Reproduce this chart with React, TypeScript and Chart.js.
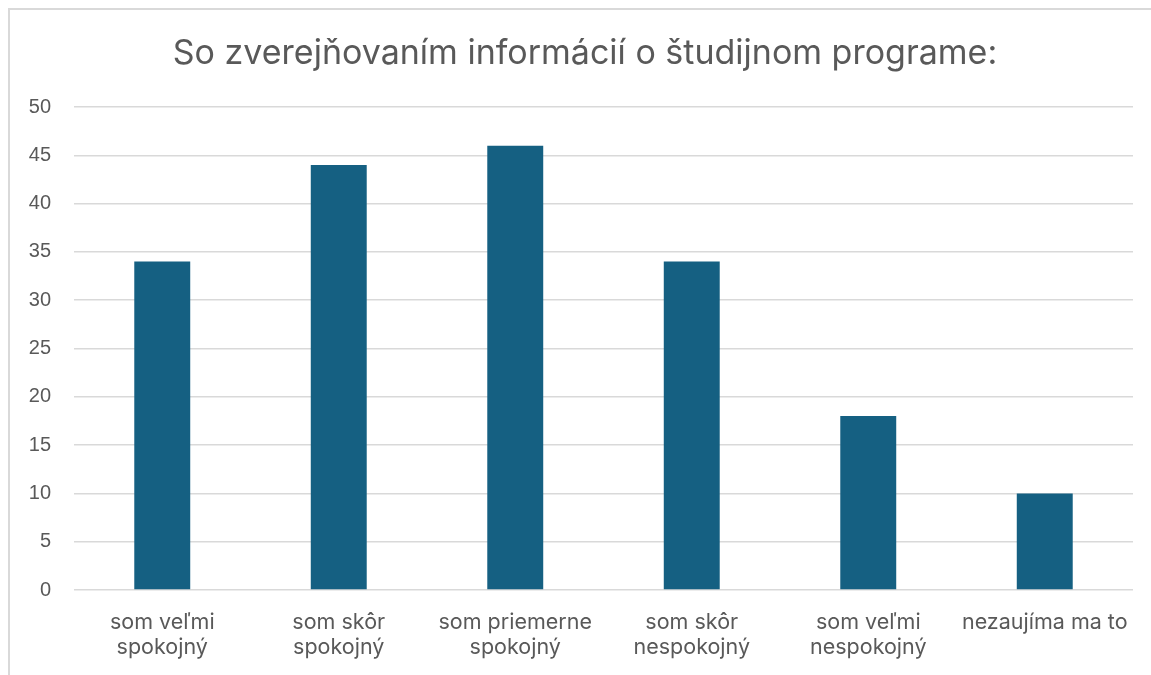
import React, { useEffect, useRef } from "react";
import { Chart, registerables } from "chart.js";

Chart.register(...registerables);

const titleText = "So zverejňovaním informácií o študijnom programe:";
const categories: (string | string[])[] = [
  ["som veľmi", "spokojný"],
  ["som skôr", "spokojný"],
  ["som priemerne", "spokojný"],
  ["som skôr", "nespokojný"],
  ["som veľmi", "nespokojný"],
  "nezaujíma ma to",
];
const values = [34, 44, 46, 34, 18, 10];
const yMin = 0;
const yMax = 50;
const yStep = 5;

export default function App() {
  const ref = useRef<HTMLCanvasElement | null>(null);
  useEffect(() => {
    if (!ref.current) return;
    const chart = new Chart(ref.current, {
      type: "bar",
      data: {
        labels: categories,
        datasets: [
          {
            data: values,
            backgroundColor: "#156082",
            borderWidth: 0,
            barPercentage: 0.317,
            categoryPercentage: 1,
          },
        ],
      },
      options: {
        animation: false,
        responsive: false,
        maintainAspectRatio: false,
        layout: { padding: { left: 10, right: 1, top: 0, bottom: 0 } },
        plugins: {
          legend: { display: false },
          tooltip: { enabled: false },
          title: {
            display: true,
            text: titleText,
            color: "#595959",
            font: { family: "Inter", size: 34, weight: "normal", lineHeight: 1.2 },
            padding: { top: 23, bottom: 33.2 },
          },
        },
        scales: {
          x: {
            afterFit: (s: any) => {
              s.height = 85;
            },
            grid: { display: false },
            border: { display: false },
            ticks: {
              color: "#595959",
              font: { family: "Inter", size: 21.5, lineHeight: 1.16 },
              padding: 12,
              maxRotation: 0,
              autoSkip: false,
            },
          },
          y: {
            min: yMin,
            max: yMax,
            afterFit: (s: any) => {
              s.width = 54;
            },
            grid: { color: "#d9d9d9", lineWidth: 1.5, drawTicks: false },
            border: { display: false },
            ticks: {
              stepSize: yStep,
              color: "#595959",
              font: { family: "Liberation Sans", size: 20 },
              padding: 23,
            },
          },
          yRightSpace: {
            position: "right",
            display: true,
            afterFit: (s: any) => {
              s.width = 17;
            },
            grid: { display: false, drawOnChartArea: false },
            border: { display: false },
            ticks: { display: false },
          },
        },
      },
    });
    return () => chart.destroy();
  }, []);
  return (
    <div
      style={{
        position: "absolute",
        left: 8,
        top: 8,
        width: 1143,
        height: 667,
        borderTop: "2px solid #d9d9d9",
        borderLeft: "2px solid #d9d9d9",
        overflow: "hidden",
        background: "#fff",
      }}
    >
      <canvas ref={ref} width={1141} height={665} style={{ display: "block" }} />
    </div>
  );
}
